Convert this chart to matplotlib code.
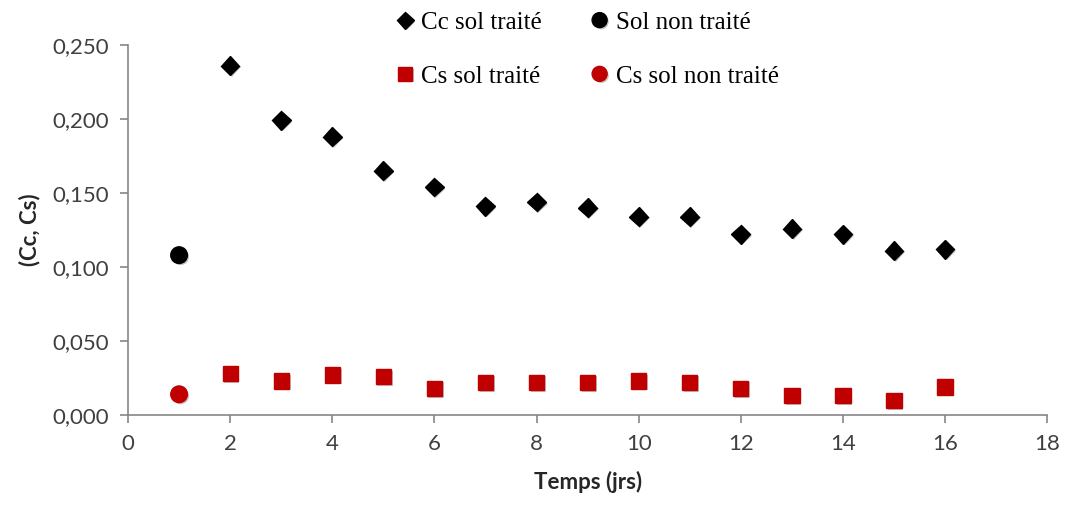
import numpy as np
import matplotlib
matplotlib.use("Agg")
import matplotlib.pyplot as plt
import matplotlib.patheffects as pe
from matplotlib.ticker import FuncFormatter

# data
jours = [2, 3, 4, 5, 6, 7, 8, 9, 10, 11, 12, 13, 14, 15, 16]
cc_traite = [0.236, 0.199, 0.188, 0.165, 0.154, 0.141, 0.144, 0.140,
             0.134, 0.134, 0.122, 0.126, 0.122, 0.111, 0.112]
cs_traite = [0.028, 0.023, 0.027, 0.026, 0.018, 0.022, 0.022, 0.022,
             0.023, 0.022, 0.018, 0.013, 0.013, 0.010, 0.019]
jour_non_traite = [1]
sol_non_traite = [0.108]
cs_non_traite = [0.014]

rouge = '#C00000'
gris = '#868686'
shadow = [pe.SimplePatchShadow(offset=(1.2, -1.2), shadow_rgbFace='0.55', alpha=0.5), pe.Normal()]

fig = plt.figure(figsize=(10.65, 5.05), dpi=100)
ax = fig.add_axes([0.1202, 0.1782, 0.8631, 0.7327])

h1, = ax.plot(jours, cc_traite, linestyle='none', marker='D', color='black',
              markersize=9.5, label='Cc sol traité', path_effects=shadow)
h2, = ax.plot(jour_non_traite, sol_non_traite, linestyle='none', marker='o', color='black',
              markersize=12, label='Sol non traité', path_effects=shadow)
h3, = ax.plot(jours, cs_traite, linestyle='none', marker='s', color=rouge,
              markersize=11, label='Cs sol traité', path_effects=shadow)
h4, = ax.plot(jour_non_traite, cs_non_traite, linestyle='none', marker='o', color=rouge,
              markersize=12, label='Cs sol non traité', path_effects=shadow)

ax.set_xlim(0, 18)
ax.set_ylim(0, 0.25)
ax.set_xticks(np.arange(0, 19, 2))
ax.set_yticks(np.arange(0, 0.2501, 0.05))
ax.yaxis.set_major_formatter(FuncFormatter(lambda v, p: ('%.3f' % v).replace('.', ',')))

for side in ['top', 'right']:
    ax.spines[side].set_visible(False)
for side in ['left', 'bottom']:
    ax.spines[side].set_color(gris)
    ax.spines[side].set_linewidth(1.2)
ax.tick_params(direction='out', length=6, width=1.2, color=gris,
               labelsize=16, labelcolor='#404040', pad=8)
for lab in ax.get_xticklabels() + ax.get_yticklabels():
    lab.set_family('Lato')

ax.set_xlabel('Temps (jrs)', fontsize=16, fontweight='bold', family='Lato', color='#262626', labelpad=12)
ax.set_ylabel('(Cc, Cs)', fontsize=16, fontweight='bold', family='Lato', color='#262626', labelpad=8)

leg = fig.legend(handles=[h1, h3, h2, h4], ncol=2, loc='center',
                 bbox_to_anchor=(0.55, 0.902), frameon=False,
                 prop={'family': 'Liberation Serif', 'size': 18},
                 handletextpad=0.15, columnspacing=1.8, labelspacing=1.25,
                 handlelength=1.0, markerscale=0.9)

fig.savefig('out.png', dpi=100)
